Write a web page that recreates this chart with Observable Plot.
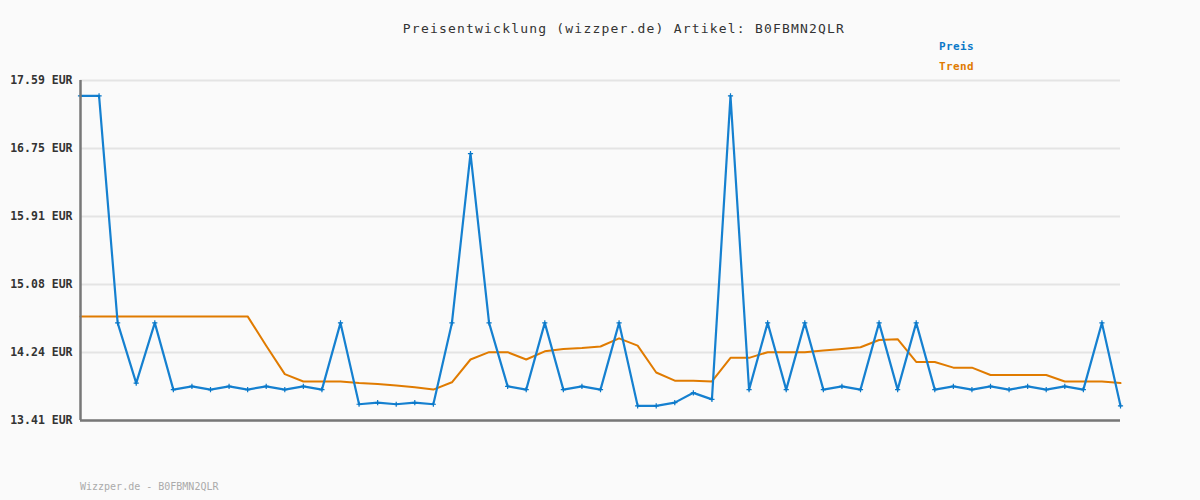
<!DOCTYPE html>
<html>
<head>
<meta charset="utf-8">
<script src="https://cdn.jsdelivr.net/npm/d3@7"></script>
<script src="https://cdn.jsdelivr.net/npm/@observablehq/plot@0.6"></script>
<style>
  html, body { margin: 0; padding: 0; background: #fafafa; }
  #wrap { position: relative; width: 1200px; height: 500px; background: #fafafa; font-family: "DejaVu Sans Mono", "Liberation Mono", monospace; }
  #title { position: absolute; left: 0; width: 1248px; top: 21px; text-align: center; font-size: 13px; letter-spacing: 1.2px; color: #333; }
  .leg { position: absolute; left: 939px; font-size: 11px; font-weight: bold; letter-spacing: 0.4px; }
  #footer { position: absolute; left: 80px; top: 481px; font-size: 10px; color: #aaa; letter-spacing: 0px; }
  #chart { position: absolute; left: 0; top: 0; }
</style>
</head>
<body>
<div id="wrap">
  <div id="chart"></div>
  <div id="title">Preisentwicklung (wizzper.de) Artikel: B0FBMN2QLR</div>
  <div class="leg" style="top:40px;color:#0a78c8;">Preis</div>
  <div class="leg" style="top:60px;color:#e07b00;">Trend</div>
  <div id="footer">Wizzper.de - B0FBMN2QLR</div>
</div>
<script>
const preis = [
  17.40, 17.40, 14.61, 13.87, 14.61, 13.79, 13.83, 13.79, 13.83, 13.79,
  13.83, 13.79, 13.83, 13.79, 14.61, 13.61, 13.63, 13.61, 13.63, 13.61,
  14.61, 16.69, 14.61, 13.83, 13.79, 14.61, 13.79, 13.83, 13.79, 14.61,
  13.59, 13.59, 13.63, 13.75, 13.67, 17.40, 13.79, 14.61, 13.79, 14.61,
  13.79, 13.83, 13.79, 14.61, 13.79, 14.61, 13.79, 13.83, 13.79, 13.83,
  13.79, 13.83, 13.79, 13.83, 13.79, 14.61, 13.59
];
const trend = [
  14.69, 14.69, 14.69, 14.69, 14.69, 14.69, 14.69, 14.69, 14.69, 14.69,
  14.33, 13.98, 13.89, 13.89, 13.89, 13.87, 13.86, 13.84, 13.82, 13.79,
  13.88, 14.16, 14.25, 14.25, 14.16, 14.26, 14.29, 14.30, 14.32, 14.42,
  14.33, 14.00, 13.90, 13.90, 13.89, 14.18, 14.18, 14.25, 14.25, 14.25,
  14.27, 14.29, 14.31, 14.40, 14.41, 14.13, 14.13, 14.06, 14.06, 13.97,
  13.97, 13.97, 13.97, 13.89, 13.89, 13.89, 13.87
];
const tickValues = [13.41, 14.246, 15.082, 15.918, 16.754, 17.59];
const tickLabels = ["13.41 EUR", "14.24 EUR", "15.08 EUR", "15.91 EUR", "16.75 EUR", "17.59 EUR"];

const rows = preis.map((p, i) => ({i, preis: p, trend: trend[i]}));
const labelOf = new Map(tickValues.map((v, k) => [v, tickLabels[k]]));

const chart = Plot.plot({
  width: 1200,
  height: 500,
  marginTop: 80,
  marginBottom: 80,
  marginLeft: 80,
  marginRight: 80,
  style: {background: "transparent", fontFamily: "DejaVu Sans Mono, monospace"},
  x: {domain: [0, preis.length - 1], axis: null},
  y: {domain: [13.41, 17.59], axis: null},
  marks: [
    Plot.ruleY(tickValues, {stroke: "#e4e4e4", strokeWidth: 2}),
    Plot.text(tickValues, {
      x: 0, y: d => d, text: d => labelOf.get(d),
      textAnchor: "end", dx: -8, fontSize: 11.5, fontWeight: "bold",
      fill: "#333", style: "letter-spacing:0.5px"
    }),
    Plot.line(rows, {x: "i", y: "trend", stroke: "#e07b00", strokeWidth: 2}),
    Plot.line(rows, {x: "i", y: "preis", stroke: "#1580d0", strokeWidth: 2.2}),
    Plot.dot(rows, {x: "i", y: "preis", symbol: "plus", r: 1.8, stroke: "#0a78c8", strokeWidth: 1.2}),
    Plot.ruleX([0], {stroke: "#777", strokeWidth: 2.5}),
    Plot.ruleY([13.41], {stroke: "#777", strokeWidth: 2.5})
  ]
});
document.getElementById("chart").appendChild(chart);
</script>
</body>
</html>
